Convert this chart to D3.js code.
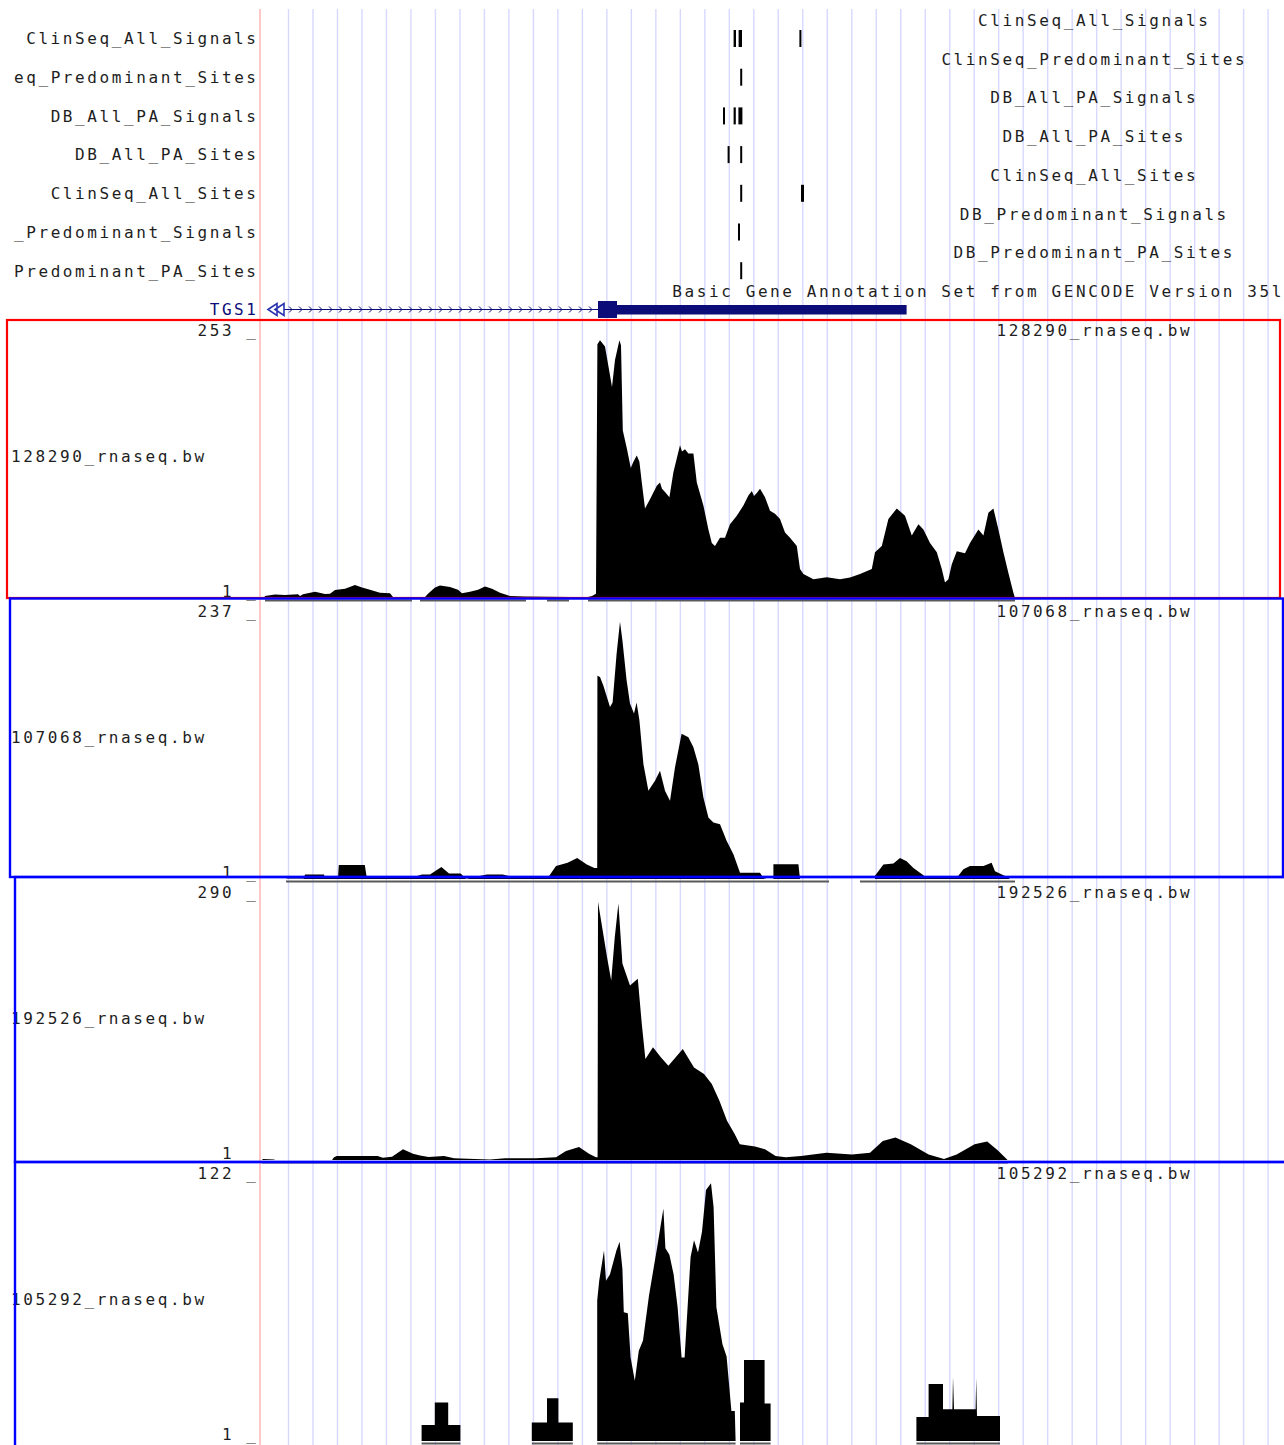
<!DOCTYPE html>
<html>
<head>
<meta charset="utf-8">
<script src="https://cdn.jsdelivr.net/npm/d3@7"></script>
<style>
  html, body { margin: 0; padding: 0; background: #fff; }
  svg { display: block; }
  text {
    font-family: "DejaVu Sans Mono", "Liberation Mono", monospace;
    font-size: 16px;
    fill: #1e1e1e;
    letter-spacing: 2.6px;
  }
</style>
</head>
<body>
<svg id="browser" width="1284" height="1445"></svg>
<script>
// ---------------------------------------------------------------
// Window: positions in kb from the left edge of the browser view
// ---------------------------------------------------------------
const viewKb = [0, 83.3];

// Polyadenylation-site tracks (bed items, [start kb, end kb])
const bedTrackNames = [
  "ClinSeq_All_Signals",
  "ClinSeq_Predominant_Sites",
  "DB_All_PA_Signals",
  "DB_All_PA_Sites",
  "ClinSeq_All_Sites",
  "DB_Predominant_Signals",
  "DB_Predominant_PA_Sites"
];
const bedItems = [
  [[23.68, 23.80], [23.93, 24.10], [26.97, 27.07]],
  [[24.01, 24.11]],
  [[23.15, 23.25], [23.68, 23.79], [23.92, 24.12]],
  [[23.38, 23.48], [24.01, 24.11]],
  [[24.01, 24.11], [27.05, 27.20]],
  [[23.90, 24.00]],
  [[24.01, 24.11]]
];

// GENCODE gene model
const geneTrackLabel = "Basic Gene Annotation Set from GENCODE Version 35lift37 (Ensembl 101)";
const geneName = "TGS1";
const geneIntron = [0.4, 16.9];
const geneCdsExons = [[16.9, 17.85]];
const geneUtr3 = [[17.85, 32.33]];

// RNA-seq bigWig tracks
const signalNames = ["128290_rnaseq.bw", "107068_rnaseq.bw", "192526_rnaseq.bw", "105292_rnaseq.bw"];
const signalMax = [253, 237, 290, 122];
const signalMin = [1, 1, 1, 1];

// [kb, read depth]
const signal128290 = [
  [0.2,1],[0.25,3],[0.75,4.4],[1.25,4],[1.9,4.5],[2.0,3],[2.15,4.5],[2.75,7],[3.25,4.8],[3.5,5],
  [3.75,8.7],[4.25,10],[4.75,13.5],[5.1,11],[5.5,9],[6.0,6],[6.5,5.5],[6.65,2],[8.25,2],[8.4,5],
  [8.75,11],[9.0,13],[9.5,11.5],[9.9,9],[10.1,5.5],[10.5,7],[10.9,9],[11.25,12],[11.6,10],[12.0,6],
  [12.5,3],[13.25,2.5],[15.5,2],[15.65,1],[16.4,2],[16.6,3],[16.8,5],[16.87,245],[17.0,249],[17.25,243],
  [17.6,204],[17.75,230],[17.97,249],[18.05,244],[18.14,162],[18.34,145],[18.54,126],[18.67,132],[18.84,138],[18.97,132],
  [19.09,112],[19.25,87],[19.5,96],[19.84,109],[20.0,112],[20.1,106],[20.25,103],[20.47,98],[20.67,122],[21.0,148],[21.1,142],[21.25,144],
  [21.42,140],[21.67,140],[21.84,112],[22.17,90],[22.42,67],[22.59,54],[22.75,51],[23.0,59],[23.25,59],[23.5,72],
  [23.84,80],[24.17,90],[24.42,99.5],[24.59,104],[24.7,99],[24.84,102],[25.0,106],[25.25,98],[25.5,85],[25.75,82],[26.0,77],
  [26.25,64],[26.5,59],[26.84,51],[27.0,29],[27.17,24],[27.67,19],[28.34,21],[29.0,19],[29.5,20.6],[30.0,24],
  [30.59,29],[30.75,45],[31.09,51],[31.42,77],[31.84,87],[32.25,80],[32.59,61],[32.92,72],[33.17,67],[33.5,54],
  [33.84,45],[34.09,29],[34.25,16],[34.42,19],[34.59,33.5],[34.84,46],[35.25,44],[35.5,54],[35.92,67],[36.17,61],
  [36.42,83],[36.67,87],[36.92,67],[37.17,45],[37.42,25],[37.67,6],[37.75,1]
];
const signal107068 = [
  [1.3,1],[1.35,1.5],[2.18,1.5],[2.25,5],[3.2,5],[3.25,2],[3.9,2],[3.94,13.6],[5.24,13.6],[5.34,2],
  [7.54,2],[8.1,5],[8.5,5],[9.07,11.8],[9.45,6],[10.03,6],[10.3,1.2],[11.35,5],[12.13,5],[12.5,3.5],
  [14.05,3.5],[14.43,3],[14.8,12.7],[15.38,15.7],[15.86,20],[16.34,14],[16.72,11],[16.86,11],[16.87,184],[17.0,183],
  [17.17,175],[17.5,156],[17.63,160],[17.83,204],[18.0,232.7],[18.12,216],[18.33,180],[18.5,159],[18.7,150],[18.83,160],
  [18.97,144],[19.17,104.7],[19.42,80.5],[19.75,89.6],[20.0,98.6],[20.25,80.5],[20.5,71.5],[20.75,101.6],[21.08,131.8],[21.42,128.7],
  [21.67,119.7],[21.92,104],[22.17,74.5],[22.42,56.4],[22.67,51.9],[23.0,50.4],[23.33,35.4],[23.67,23.3],[24.0,6.7],[25.0,6.7],
  [25.17,2],[25.33,1],[25.67,1],[25.67,14.3],[26.92,14.3],[27.0,1],[30.75,1],[30.75,4],[31.17,14],[31.67,15],
  [32.0,20],[32.33,17],[32.67,11],[33.17,4.3],[33.33,2],[34.83,2],[35.17,9.8],[35.5,12.8],[36.17,12.8],[36.58,15.7],
  [36.75,7.9],[37.33,3],[37.5,1]
];
const signal192526 = [
  [0.1,1],[0.15,2],[0.7,1.5],[0.75,1],[3.6,1],[3.7,4],[3.84,5.4],[4.6,5.4],[5.88,5.4],[6.14,3.5],
  [6.6,4.5],[7.15,12.8],[7.65,8],[8.0,6],[8.43,4.3],[9.2,5.4],[9.7,3],[10.73,2],[11.5,1.5],[12.25,3],
  [13.79,3],[14.8,4],[15.3,11],[15.95,15.4],[16.45,8],[16.8,4],[16.88,4],[16.9,286],[17.35,225],[17.56,199],
  [17.74,247],[17.92,284],[18.12,217.7],[18.5,193.6],[18.89,201],[19.09,151],[19.27,112.5],[19.65,125.5],[20.04,114.4],[20.42,105],
  [21.14,123.5],[21.7,103],[22.2,95.8],[22.59,84.7],[22.97,66.3],[23.35,44.2],[23.74,29.5],[23.99,18.4],[24.75,16],[25.25,12.8],
  [25.78,5.4],[26.29,4],[27.05,5.4],[28.33,9.1],[29.6,7],[30.5,9],[31.14,22],[31.77,25.7],[32.54,18.4],[33.43,7],
  [34.2,2],[34.83,7],[35.73,18.4],[36.36,21.5],[36.87,12],[37.38,1]
];
const signal105292 = [
  [8.08,1],[8.08,8.4],[8.74,8.4],[8.74,18.8],[9.41,18.8],[9.41,8.4],[10.02,8.4],[10.02,1],
  [13.59,1],[13.59,9.5],[14.35,9.5],[14.35,20.8],[14.92,20.8],[14.92,9.5],[15.64,9.5],[15.64,1],
  [16.86,1],[16.86,65.9],[16.96,75],[17.2,89],[17.3,75],[17.5,78],[17.82,89],[17.98,93],[18.12,80.6],[18.19,60.5],
  [18.39,60],[18.53,39.6],[18.74,28.8],[18.94,42.7],[19.15,47.4],[19.45,68.2],[19.86,90.6],[20.17,108.4],[20.27,90],[20.47,87],
  [20.68,78],[20.88,62.8],[21.08,39.6],[21.23,39.6],[21.39,64.4],[21.53,86],[21.7,93.7],[21.9,88],[22.1,97.6],[22.3,116.9],
  [22.55,120],[22.68,109],[22.82,62.8],[23.12,45.8],[23.33,40],[23.57,14.9],[23.74,14.9],[23.78,1],
  [24.0,1],[24.0,18.8],[24.2,18.8],[24.2,38.4],[25.23,38.4],[25.23,18.3],[25.53,18.3],[25.53,1],
  [32.82,1],[32.82,12.1],[33.43,12.1],[33.43,27.3],[34.15,27.3],[34.15,15.7],[34.62,15.7],[34.65,30.6],[34.7,15.7],[35.78,15.7],
  [35.81,30.1],[35.85,12.6],[37.0,12.6],[37.0,1]
];
const signalSeries = [signal128290, signal107068, signal192526, signal105292];

// Regions with read coverage (grey line under each wiggle)
const coverage128290 = [[0.25, 7.6], [8.0, 13.3], [14.35, 15.45], [16.4, 37.75]];
const coverage107068 = [[1.3, 28.45], [30.0, 37.75]];
const coverage192526 = [[0.1, 37.4]];
const coverage105292 = [[8.08, 10.02], [13.59, 15.64], [16.86, 23.78], [24.0, 25.53], [32.82, 37.0]];
const coverageSeries = [coverage128290, coverage107068, coverage192526, coverage105292];

// ---------------------------------------------------------------
// Layout
// ---------------------------------------------------------------
const W = 1284, H = 1445;
const LS = 2.6;                 // letter spacing of the label font
const sideChars = 20;           // width of the side label column, in characters
const dataLeft = 260, dataRight = 1926;
const labelRight = 258.6;        // anchor for right-aligned side labels
const centerX = (dataLeft + dataRight) / 2 + LS / 2;
const rowH = 38.7;
const trackStep = 281, trackTop0 = 336, trackBottom0 = 598;
const navy = "#0c0c78";

// side labels keep their last characters when they do not fit the column
const fitSide = s => (s.length > sideChars ? s.slice(-sideChars) : s);

const x = d3.scaleLinear().domain(viewKb).range([dataLeft, dataRight]);

const svg = d3.select("#browser");
svg.append("rect").attr("width", W).attr("height", H).attr("fill", "#fff");

const defs = svg.append("defs");
defs.append("clipPath").attr("id", "dataClip")
  .append("rect").attr("x", dataLeft).attr("y", 0).attr("width", W - dataLeft).attr("height", H);

// Guidelines and the left edge of the data area
const guides = svg.append("g");
guides.selectAll("line.guide")
  .data(d3.range(288.5, W, 24.49))
  .join("line")
  .attr("x1", d => d).attr("x2", d => d)
  .attr("y1", 9).attr("y2", H)
  .attr("stroke", "#d8d8ff").attr("stroke-width", 1.4);
guides.append("line")
  .attr("x1", dataLeft).attr("x2", dataLeft).attr("y1", 9).attr("y2", H)
  .attr("stroke", "#ffb0b0").attr("stroke-width", 1.4);

const side = svg.append("g");
const data = svg.append("g").attr("clip-path", "url(#dataClip)");

// ---------------------------------------------------------------
// Bed tracks
// ---------------------------------------------------------------
bedTrackNames.forEach((name, i) => {
  const rowTop = 30 + rowH * i;
  data.append("text")
    .attr("x", centerX).attr("y", 26 + rowH * i)
    .attr("text-anchor", "middle")
    .text(name);
  side.append("text")
    .attr("x", labelRight).attr("y", 44.3 + rowH * i)
    .attr("text-anchor", "end")
    .text(fitSide(name));
  data.selectAll(null)
    .data(bedItems[i])
    .join("rect")
    .attr("x", d => x(d[0]))
    .attr("width", d => Math.max(2, x(d[1]) - x(d[0])))
    .attr("y", rowTop).attr("height", 17)
    .attr("fill", "#000");
});

// ---------------------------------------------------------------
// Gene track
// ---------------------------------------------------------------
const geneY = 309.5;
data.append("text")
  .attr("x", centerX).attr("y", 296.7)
  .attr("text-anchor", "middle")
  .text(geneTrackLabel);
side.append("text")
  .attr("x", labelRight).attr("y", 315)
  .attr("text-anchor", "end")
  .style("fill", navy)
  .text(geneName);

const gene = data.append("g");
gene.append("line")
  .attr("x1", x(geneIntron[0])).attr("x2", x(geneIntron[1]))
  .attr("y1", geneY).attr("y2", geneY)
  .attr("stroke", navy).attr("stroke-width", 1);
// strand chevrons (+ strand)
gene.selectAll("path.chev")
  .data(d3.range(x(geneIntron[0]) + 23, x(geneIntron[1]) - 4, 10))
  .join("path")
  .attr("d", d => `M${d - 2},${geneY - 3}L${d + 1},${geneY}L${d - 2},${geneY + 3}`)
  .attr("fill", "none").attr("stroke", navy).attr("stroke-width", 1);
// continuation arrows at the window edge
gene.append("path")
  .attr("d", (() => {
    const a = x(geneIntron[0]);
    return `M${a},${geneY}L${a + 9},${geneY - 6}L${a + 9},${geneY + 6}Z` +
           `M${a + 7},${geneY}L${a + 16},${geneY - 6}L${a + 16},${geneY + 6}Z`;
  })())
  .attr("fill", "#fff").attr("stroke", "#2a34b0").attr("stroke-width", 1.6);
gene.selectAll("rect.utr")
  .data(geneUtr3)
  .join("rect")
  .attr("x", d => x(d[0])).attr("width", d => x(d[1]) - x(d[0]))
  .attr("y", 305).attr("height", 9.5)
  .attr("fill", navy);
gene.selectAll("rect.cds")
  .data(geneCdsExons)
  .join("rect")
  .attr("x", d => x(d[0])).attr("width", d => x(d[1]) - x(d[0]))
  .attr("y", 301).attr("height", 17)
  .attr("fill", navy);

// ---------------------------------------------------------------
// Wiggle tracks
// ---------------------------------------------------------------
signalNames.forEach((name, i) => {
  const top = trackTop0 + trackStep * i;
  const bottom = trackBottom0 + trackStep * i;
  const y = d3.scaleLinear().domain([signalMin[i], signalMax[i]]).range([bottom, top]);

  // coverage line
  data.selectAll(null)
    .data(coverageSeries[i])
    .join("line")
    .attr("x1", d => x(d[0])).attr("x2", d => x(d[1]))
    .attr("y1", bottom + 2.5).attr("y2", bottom + 2.5)
    .attr("stroke", "#5a5a5a").attr("stroke-width", 2);

  const area = d3.area()
    .x(d => x(d[0]))
    .y0(y(signalMin[i]))
    .y1(d => y(d[1]))
    .curve(d3.curveLinear);
  data.append("path")
    .datum(signalSeries[i])
    .attr("d", area)
    .attr("fill", "#000");

  // labels
  data.append("text")
    .attr("x", centerX).attr("y", top)
    .attr("text-anchor", "middle")
    .text(name);
  svg.append("text")
    .attr("x", 11).attr("y", top + 126)
    .text(name);
  svg.append("text")
    .attr("x", labelRight).attr("y", top)
    .attr("text-anchor", "end")
    .text(`${signalMax[i]} _`);
  svg.append("text")
    .attr("x", labelRight).attr("y", bottom - 1)
    .attr("text-anchor", "end")
    .text(`${signalMin[i]} _`);
});

// ---------------------------------------------------------------
// Highlight frames around the wiggle tracks
// ---------------------------------------------------------------
const frames = svg.append("g").attr("fill", "none");
frames.append("rect").attr("x", 7).attr("y", 320).attr("width", 1273).attr("height", 278)
  .attr("stroke", "#ff0000").attr("stroke-width", 2.2);
frames.append("rect").attr("x", 10).attr("y", 598.5).attr("width", 1273).attr("height", 278.5)
  .attr("stroke", "#0000ff").attr("stroke-width", 2.4);
frames.append("rect").attr("x", 15).attr("y", 877).attr("width", 1300).attr("height", 285)
  .attr("stroke", "#0000ff").attr("stroke-width", 2.4);
frames.append("rect").attr("x", 15).attr("y", 1162).attr("width", 1300).attr("height", 400)
  .attr("stroke", "#0000ff").attr("stroke-width", 2.4);
</script>
</body>
</html>
